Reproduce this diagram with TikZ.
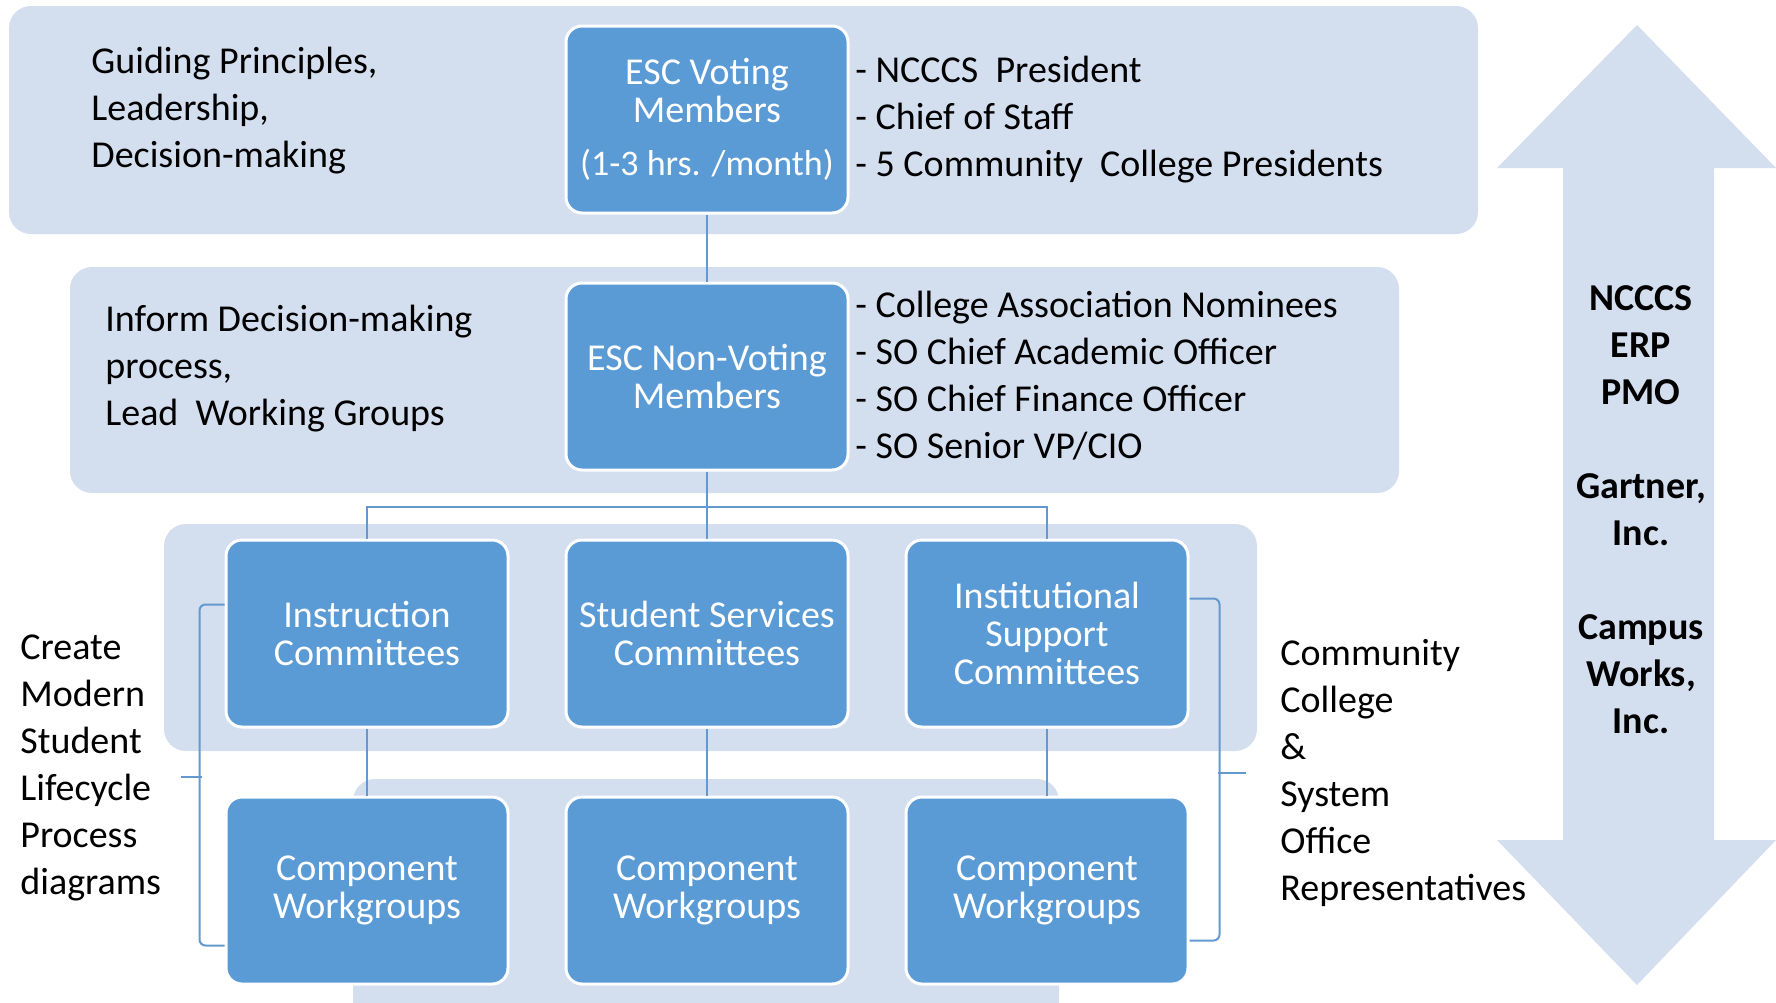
\documentclass[tikz,border=0pt]{standalone}
\usepackage{fontspec}
\setmainfont{Carlito}
\definecolor{bandblue}{HTML}{D3DEEF}
\definecolor{boxblue}{HTML}{5B9BD5}
\definecolor{linkblue}{HTML}{6499CF}

\begin{document}
\begin{tikzpicture}[x=0.5pt, y=-0.5pt, level distance=128.5pt,
  level 2/.style = {sibling distance = 170pt},
  edge from parent/.style = {draw=linkblue, line width=1pt},
  edge from parent path = {(\tikzparentnode.south) -- +(0pt,-17.5pt) -| (\tikzchildnode.north)},
  band/.style = {fill=bandblue, rounded corners=11pt},
  member/.style = {rectangle, rounded corners=8pt, fill=boxblue, draw=white, line width=1.5pt,
    minimum width=141pt, minimum height=93.5pt, inner sep=0pt, align=center, text=white,
    font=\fontsize{19}{19}\selectfont},
  note/.style = {align=left, anchor=west, inner sep=0pt, font=\fontsize{19}{23.5}\selectfont},
  link/.style = {draw=linkblue, line width=1pt, rounded corners=3pt},
  ]
  \useasboundingbox (0,0) rectangle (1776,1002);

  % background bands
  \fill[band] (9,6) rectangle (1478,234);
  \fill[band] (70,267) rectangle (1399,493);
  \fill[band] (164,524) rectangle (1257,751);
  \begin{scope}
    \clip (0,0) rectangle (1776,1002);
    \fill[band] (353,779) rectangle (1059,1040);
  \end{scope}

  % double arrow
  \fill[bandblue] (1637,25) -- (1776,168) -- (1714,168) -- (1714,840) -- (1776,840)
    -- (1637,985) -- (1497,840) -- (1563,840) -- (1563,168) -- (1497,168) -- cycle;

  \node[member] (voting) at (707,119.5) {ESC Voting\\Members\\[7.5pt]{\fontsize{18}{18}\selectfont(1-3 hrs. /month)}}
  child { node[member] (nonvoting) {ESC Non-Voting\\Members}
          child { node[member] (instr) {Instruction\\Committees}
                  child { node[member] (instrwork) {Component\\Workgroups} }
                }
          child { node[member] (studsvc) {Student Services\\Committees}
                  child { node[member] (studwork) {Component\\Workgroups} }
                }
          child { node[member] (inst) {Institutional\\Support\\Committees}
                  child { node[member] (instwork) {Component\\Workgroups} }
                }
        };

  \node[note] (guide) at (91,111) {Guiding Principles,\\Leadership,\\Decision-making};
  \node[note] (votelist) at (855,120) {- NCCCS~ President\\- Chief of Staff\\- 5 Community~ College Presidents};
  \node[note] (inform) at (105,369) {Inform Decision-making\\process,\\Lead~ Working Groups};
  \node[note] (nonvotelist) at (855,376) {- College Association Nominees\\- SO Chief Academic Officer\\- SO Chief Finance Officer\\- SO Senior VP/CIO};
  \node[note] (create) at (20,768) {Create\\Modern\\Student\\Lifecycle\\Process\\diagrams};
  \node[note] (reps) at (1280,773) {Community\\College\\\&\\System\\Office\\Representatives};
  \node[note, anchor=center, align=center, font=\bfseries\fontsize{19}{23.5}\selectfont] (pmo) at (1641,510)
    {NCCCS\\ERP\\PMO\\\strut\\Gartner,\\Inc.\\\strut\\Campus\\Works,\\Inc.};

  % brackets
  \coordinate (lmid) at (202,777);
  \coordinate (rmid) at (1218,773);
  \draw[link] ([yshift=14.5pt]instr.west) -- ++(-12.5pt,0pt) |- ([yshift=-27.5pt]instrwork.west);
  \draw[link] (lmid) -- ++(-10.5pt,0pt);
  \draw[link] ([yshift=17.5pt]inst.east) -- ++(15pt,0pt) |- ([yshift=-25pt]instwork.east);
  \draw[link] (rmid) -- ++(14pt,0pt);
\end{tikzpicture}
\end{document}
